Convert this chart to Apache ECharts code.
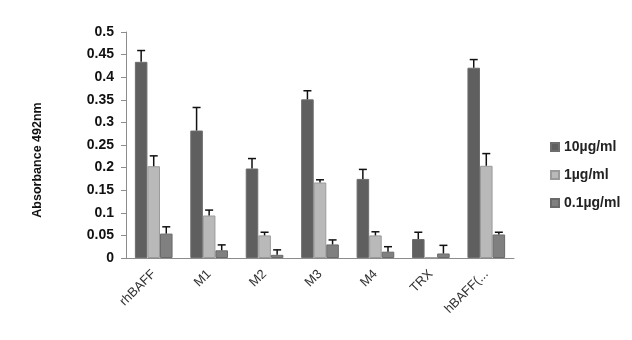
<!DOCTYPE html>
<html>
<head>
<meta charset="utf-8">
<script src="https://cdn.jsdelivr.net/npm/echarts@6/dist/echarts.min.js"></script>
<style>html,body{margin:0;padding:0;background:#fff}#c{width:632px;height:340px}</style>
</head>
<body>
<div id="c"></div>
<script>
const categories = ['rhBAFF', 'M1', 'M2', 'M3', 'M4', 'TRX', 'hBAFF(...'];
const seriesNames = ['10\u00b5g/ml', '1\u00b5g/ml', '0.1\u00b5g/ml'];
const values10 = [0.434, 0.282, 0.198, 0.351, 0.175, 0.042, 0.421];
const values1 = [0.203, 0.094, 0.050, 0.167, 0.050, 0.001, 0.204];
const values01 = [0.054, 0.017, 0.007, 0.030, 0.014, 0.010, 0.052];
const err10 = [0.025, 0.051, 0.022, 0.019, 0.021, 0.015, 0.018];
const err1 = [0.023, 0.012, 0.007, 0.006, 0.008, 0.000, 0.027];
const err01 = [0.015, 0.012, 0.011, 0.010, 0.011, 0.018, 0.005];
const yTicks = ['0', '0.05', '0.1', '0.15', '0.2', '0.25', '0.3', '0.35', '0.4', '0.45', '0.5'];
const yTitle = 'Absorbance 492nm';

const colors = ['#5f5f5f', '#b9b9b9', '#808080'];
const borders = ['#6e6e6e', '#9a9a9a', '#6a6a6a'];
const GAP = 0.32;
const allVals = [values10, values1, values01];
const allErr = [err10, err1, err01];

const errData = [];
for (let s = 0; s < 3; s++) {
  for (let i = 0; i < categories.length; i++) {
    if (allErr[s][i] > 0) errData.push([i, allVals[s][i], allErr[s][i], s]);
  }
}

const chart = echarts.init(document.getElementById('c'));
const bars = seriesNames.map((n, s) => ({
  name: n, type: 'bar', data: allVals[s],
  barGap: '0%', barCategoryGap: (GAP * 100) + '%',
  itemStyle: { color: colors[s], borderColor: borders[s], borderWidth: 1 },
  animation: false
}));

chart.setOption({
  animation: false,
  textStyle: { fontFamily: 'Liberation Sans, Arial, sans-serif' },
  grid: { left: 126, right: 118, top: 32, bottom: 82 },
  graphic: [{
    type: 'text', x: 38, y: 160, rotation: Math.PI / 2,
    style: { text: yTitle, font: 'bold 12.5px Liberation Sans, Arial, sans-serif', fill: '#111', textAlign: 'center', textVerticalAlign: 'middle' }
  }],
  legend: {
    data: seriesNames, orient: 'vertical', left: 545, top: 135,
    itemWidth: 8, itemHeight: 8, itemGap: 14, icon: 'rect',
    textStyle: { fontSize: 14, fontWeight: 'bold', color: '#222' }
  },
  xAxis: {
    type: 'category', data: categories,
    axisLine: { lineStyle: { color: '#8c8c8c' } },
    axisTick: { show: false },
    axisLabel: { rotate: 45, interval: 0, fontSize: 13, color: '#333', margin: 14 }
  },
  yAxis: {
    type: 'value', min: 0, max: 0.5, interval: 0.05,
    axisLine: { show: true, lineStyle: { color: '#8c8c8c' } },
    axisTick: { show: true, length: 5, lineStyle: { color: '#8c8c8c' } },
    splitLine: { show: false },
    axisLabel: {
      fontSize: 14, fontWeight: 'bold', color: '#111', margin: 12,
      formatter: v => yTicks[Math.round(v / 0.05)]
    }
  },
  series: bars.concat([{
    type: 'custom', data: errData, encode: { x: 0, y: 1 }, z: 5,
    renderItem: function (params, api) {
      const ci = api.value(0), v = api.value(1), e = api.value(2), s = api.value(3);
      const base = api.coord([ci, v]);
      const top = api.coord([ci, v + e]);
      const band = api.size([1, 0])[0];
      const bw = band * (1 - GAP) / 3;
      const x = base[0] + (s - 1) * bw;
      return {
        type: 'group', children: [
          { type: 'line', shape: { x1: x, y1: base[1], x2: x, y2: top[1] }, style: { stroke: '#111', lineWidth: 1.5 } },
          { type: 'line', shape: { x1: x - 4, y1: top[1], x2: x + 4, y2: top[1] }, style: { stroke: '#111', lineWidth: 1.5 } }
        ]
      };
    }
  }])
});
</script>
</body>
</html>
